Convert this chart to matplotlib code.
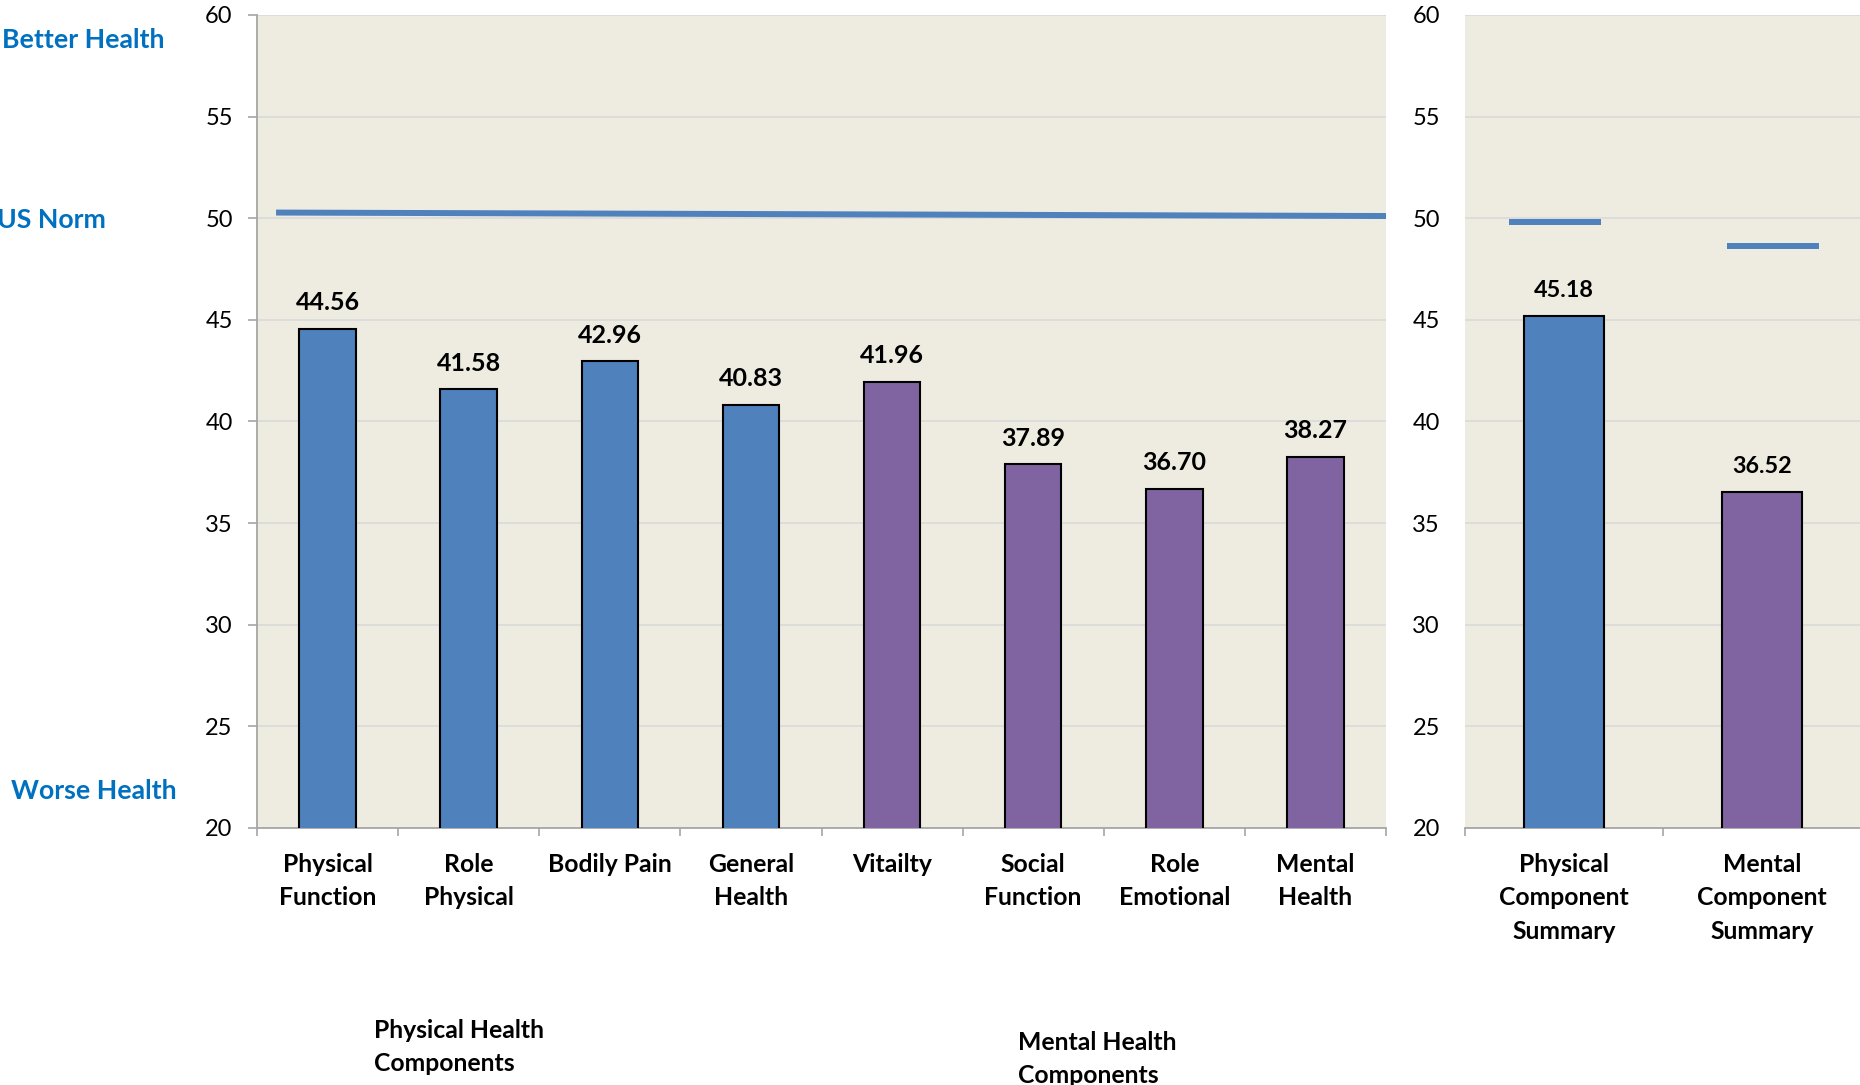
import matplotlib
matplotlib.use("Agg")
import matplotlib.pyplot as plt
from matplotlib.ticker import FixedLocator

plt.rcParams['font.family'] = ['Lato', 'DejaVu Sans']

# ---- data ----
categories = ["Physical\nFunction", "Role\nPhysical", "Bodily Pain", "General\nHealth",
              "Vitailty", "Social\nFunction", "Role\nEmotional", "Mental\nHealth"]
scores = [44.56, 41.58, 42.96, 40.83, 41.96, 37.89, 36.70, 38.27]
groups = ["physical", "physical", "physical", "physical",
          "mental", "mental", "mental", "mental"]

summary_categories = ["Physical\nComponent\nSummary", "Mental\nComponent\nSummary"]
summary_scores = [45.18, 36.52]
summary_groups = ["physical", "mental"]

us_norm_start_end = [50.28, 50.11]     # US norm line (left panel), start and end values
summary_norms = [49.80, 48.62]          # US norm markers for the summary scores

y_ticks = [20, 25, 30, 35, 40, 45, 50, 55, 60]

# ---- style ----
W, H = 1860, 1085
BG = "#EEECE1"
GRID = "#D9D9D9"
SPINE = "#A6A6A6"
BLUE = "#4F81BD"
PURPLE = "#8064A2"
TXTBLUE = "#0070C0"
group_color = {"physical": BLUE, "mental": PURPLE}
CAT_FS = 17.8
LS = 1.55

fig = plt.figure(figsize=(W / 100, H / 100), dpi=100)
top_px, bot_px = 15, 828
axL = fig.add_axes([257 / W, (H - bot_px) / H, 1129 / W, (bot_px - top_px) / H])
axR = fig.add_axes([1465 / W, (H - bot_px) / H, 396 / W, (bot_px - top_px) / H])


def style_axes(ax, n, show_left, ypad, ylen):
    ax.set_facecolor(BG)
    ax.set_xlim(-0.5, n - 0.5)
    ax.set_ylim(y_ticks[0], y_ticks[-1])
    ax.set_yticks(y_ticks)
    ax.yaxis.grid(True, color=GRID, linewidth=1.2)
    ax.set_axisbelow(True)
    for s in ["top", "right"]:
        ax.spines[s].set_visible(False)
    ax.spines["left"].set_visible(show_left)
    ax.spines["left"].set_color(SPINE)
    ax.spines["bottom"].set_color(SPINE)
    ax.spines["left"].set_linewidth(1.3)
    ax.spines["bottom"].set_linewidth(1.3)
    ax.tick_params(axis="y", length=ylen, width=1.2, color=SPINE, pad=ypad,
                   labelsize=17, labelcolor="black")
    ax.xaxis.set_minor_locator(FixedLocator([i - 0.5 for i in range(n + 1)]))
    ax.tick_params(axis="x", which="minor", length=6, width=1.2, color=SPINE)
    ax.tick_params(axis="x", which="major", length=0, pad=18)


style_axes(axL, len(categories), True, 11, 6.5)
style_axes(axR, len(summary_categories), False, 18, 0)

# left panel bars
xs = list(range(len(categories)))
axL.bar(xs, scores, width=0.4, color=[group_color[g] for g in groups],
        edgecolor="black", linewidth=1.5, zorder=3)
axL.set_xticks(xs)
axL.set_xticklabels(categories, fontsize=CAT_FS, fontweight="bold", linespacing=LS)
for x, v in zip(xs, scores):
    axL.annotate(f"{v:.2f}", (x, v), xytext=(0, 13.5), textcoords="offset points",
                 ha="center", va="baseline", fontsize=18, fontweight="bold")

# US norm line
axL.plot([-0.365, len(categories) - 0.5], us_norm_start_end, color=BLUE, linewidth=4.3,
         solid_capstyle="butt", zorder=4)

# right panel bars
xs2 = list(range(len(summary_categories)))
axR.bar(xs2, summary_scores, width=0.4, color=[group_color[g] for g in summary_groups],
        edgecolor="black", linewidth=1.5, zorder=3)
axR.set_xticks(xs2)
axR.set_xticklabels(summary_categories, fontsize=CAT_FS, fontweight="bold", linespacing=LS)
for x, v in zip(xs2, summary_scores):
    axR.annotate(f"{v:.2f}", (x, v), xytext=(0, 13.5), textcoords="offset points",
                 ha="center", va="baseline", fontsize=16.8, fontweight="bold")

norm_offsets = [-0.045, 0.056]
for x, v, off in zip(xs2, summary_norms, norm_offsets):
    axR.hlines(v, x + off - 0.233, x + off + 0.233, color=BLUE, linewidth=4.3, zorder=4)

# side annotations
fig.text(2 / W, (H - 40) / H, "Better Health", color=TXTBLUE, fontsize=19.2,
         fontweight="bold", ha="left", va="center")
fig.text(-3 / W, (H - 220) / H, "US Norm", color=TXTBLUE, fontsize=19.2,
         fontweight="bold", ha="left", va="center")
fig.text(11 / W, (H - 791) / H, "Worse Health", color=TXTBLUE, fontsize=19.2,
         fontweight="bold", ha="left", va="center")

# group labels
fig.text(374 / W, (H - 1047) / H, "Physical Health\nComponents", fontsize=CAT_FS,
         fontweight="bold", ha="left", va="center", linespacing=LS)
fig.text(1018 / W, (H - 1059) / H, "Mental Health\nComponents", fontsize=CAT_FS,
         fontweight="bold", ha="left", va="center", linespacing=LS)

fig.savefig("out.png", dpi=100, facecolor="white")
